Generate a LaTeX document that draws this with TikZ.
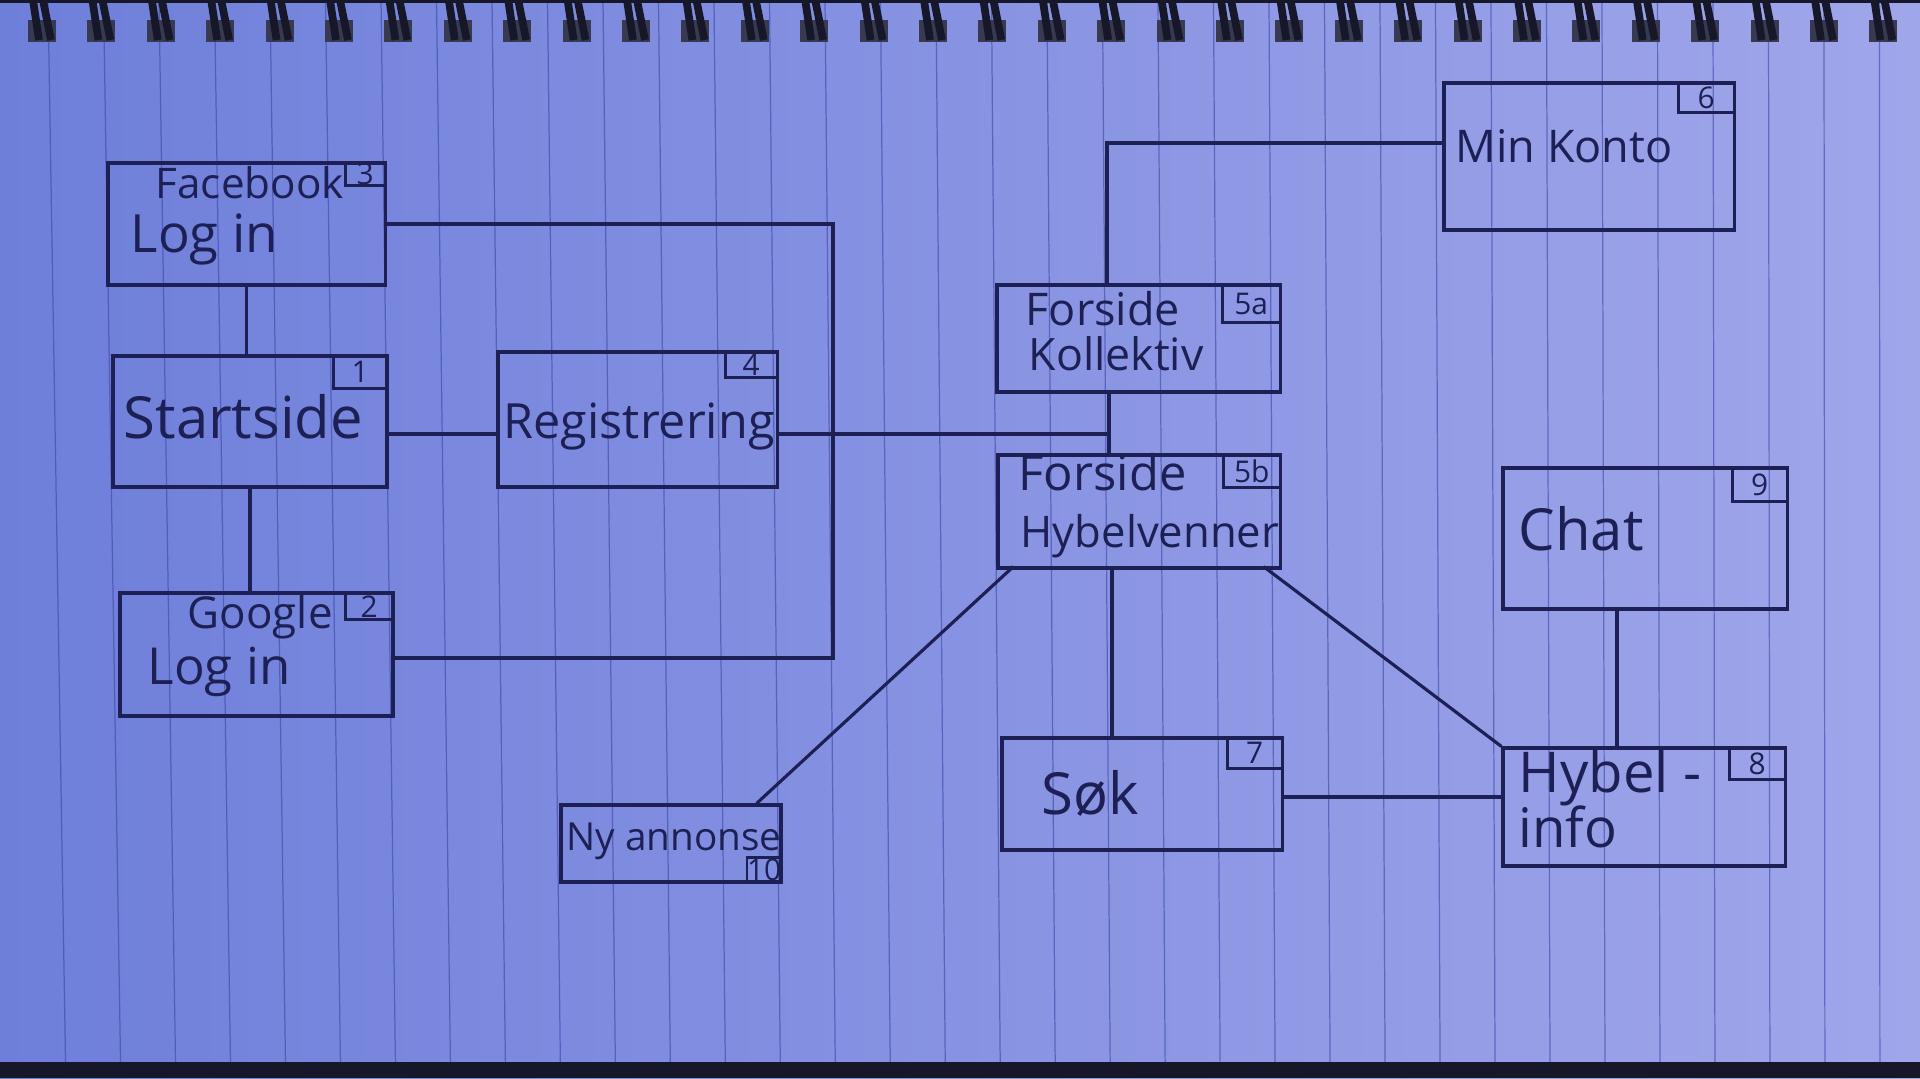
\documentclass[tikz,border=0pt]{standalone}
\usepackage{fontspec}
\setmainfont{Open Sans}
\usepackage{tikz}
\usetikzlibrary{calc}
\definecolor{ink}{RGB}{28,32,84}
\definecolor{paperL}{RGB}{110,127,218}
\definecolor{paperR}{RGB}{160,166,234}
\definecolor{rule}{RGB}{58,70,165}
\definecolor{wire}{RGB}{22,24,42}
\definecolor{hole}{RGB}{55,58,80}
\newcommand\hand[1]{\fontsize{#1}{#1}\selectfont}
\tikzset{
  screen/.style={draw=ink, line width=0.9pt, inner sep=0pt},
  numbox/.style={draw=ink, line width=0.8pt, inner sep=0pt, anchor=north east, text=ink, font=\hand{8.5}},
  handtxt/.style={text=ink, inner sep=0pt, anchor=base west},
  link/.style={draw=ink, line width=0.9pt},
}

\begin{document}
\begin{tikzpicture}[x=0.01cm, y=-0.01cm]
    % paper
    \useasboundingbox (0,0) rectangle (1920,1078);
    \shade[left color=paperL, right color=paperR] (0,0) rectangle (1920,1078);
    \foreach \i in {0,...,33} {
      \pgfmathsetmacro\xt{48+55.5*\i}
      \pgfmathsetmacro\xb{\xt+18*(1-\xt/1920)}
      \draw[rule, line width=0.35pt, opacity=0.6] (\xt,0) -- (\xb,1062);
    }
    % spiral
    \fill[wire] (0,0) rectangle (1920,3);
    \foreach \i in {0,...,31} {
      \pgfmathsetmacro\cx{42+59.4*\i}
      \fill[hole] (\cx-14,20) rectangle (\cx+14,42);
      \draw[wire, line width=2.2pt] (\cx-9,0) -- (\cx-3,40);
      \draw[wire, line width=2.2pt] (\cx+1,0) -- (\cx+9,40);
    }
    \fill[wire] (0,1062) rectangle (1920,1078);

    % screens
    \node[screen, minimum width=2.77cm, minimum height=1.22cm] (fb) at (246.5,224) {};
    \node[screen, minimum width=2.74cm, minimum height=1.31cm] (start) at (250,421.5) {};
    \node[screen, minimum width=2.73cm, minimum height=1.23cm] (google) at (256.5,654.5) {};
    \node[screen, minimum width=2.79cm, minimum height=1.35cm] (reg) at (637.5,419.5) {};
    \node[screen, minimum width=2.83cm, minimum height=1.07cm] (hk) at (1138.5,338.5) {};
    \node[screen, minimum width=2.82cm, minimum height=1.13cm] (hh) at (1139,511.5) {};
    \node[screen, minimum width=2.90cm, minimum height=1.47cm] (konto) at (1589,156.5) {};
    \node[screen, minimum width=2.84cm, minimum height=1.41cm] (chat) at (1645,538.5) {};
    \node[screen, minimum width=2.80cm, minimum height=1.12cm] (sok) at (1142,794) {};
    \node[screen, minimum width=2.82cm, minimum height=1.18cm] (hybel) at (1644,807) {};
    \node[screen, minimum width=2.20cm, minimum height=0.77cm] (ny) at (671,843.5) {};

    % numbers
    \node[numbox, minimum width=0.40cm, minimum height=0.23cm] (n3) at (fb.north east) {3};
    \node[numbox, minimum width=0.54cm, minimum height=0.33cm] (n1) at (start.north east) {1};
    \node[numbox, minimum width=0.48cm, minimum height=0.27cm] (n2) at (google.north east) {2};
    \node[numbox, minimum width=0.52cm, minimum height=0.26cm] (n4) at (reg.north east) {4};
    \node[numbox, minimum width=0.58cm, minimum height=0.38cm] (n5a) at (hk.north east) {5a};
    \node[numbox, minimum width=0.57cm, minimum height=0.33cm] (n5b) at (hh.north east) {5b};
    \node[numbox, minimum width=0.56cm, minimum height=0.30cm] (n6) at (konto.north east) {6};
    \node[numbox, minimum width=0.55cm, minimum height=0.34cm] (n9) at (chat.north east) {9};
    \node[numbox, minimum width=0.56cm, minimum height=0.32cm] (n8) at (hybel.north east) {8};
    \node[numbox, minimum width=0.55cm, minimum height=0.31cm] (n7) at (sok.north east) {7};
    \node[numbox, anchor=south east, minimum width=0.32cm, minimum height=0.25cm] (n10) at (ny.south east) {10};

    % names
    \node[handtxt, font=\hand{12}] (fbname) at (155,198) {Facebook};
    \node[handtxt, font=\hand{15}] (fblog) at (130,252) {Log in};
    \node[handtxt, font=\hand{16.5}] (startname) at (123,438) {Startside};
    \node[handtxt, font=\hand{12.5}] (gname) at (187,628) {Google};
    \node[handtxt, font=\hand{14.5}] (glog) at (147,684) {Log in};
    \node[handtxt, font=\hand{13.8}] (regname) at (503,438) {Registrering};
    \node[handtxt, font=\hand{12.8}] (hkname) at (1025,325) {Forside};
    \node[handtxt, font=\hand{12.7}] (hksub) at (1028,370) {Kollektiv};
    \node[handtxt, font=\hand{13.9}] (hhname) at (1018,490) {Forside};
    \node[handtxt, font=\hand{12.4}] (hhsub) at (1020,547) {Hybelvenner};
    \node[handtxt, font=\hand{12.8}] (kontoname) at (1455,162) {Min Konto};
    \node[handtxt, font=\hand{16.5}] (chatname) at (1518,550) {Chat};
    \node[handtxt, font=\hand{16.5}] (sokname) at (1041,814) {Søk};
    \node[handtxt, font=\hand{16}] (hybelname) at (1518,792) {Hybel -};
    \node[handtxt, font=\hand{15.5}] (hybelsub) at (1518,847) {info};
    \node[handtxt, font=\hand{11}] (nyname) at (566,850) {Ny annonse};

    % links
    \coordinate (rail) at (833,224);
    \coordinate (railend) at (833,658);
    \draw[link] (fb.east |- rail) -- (rail) -- (railend) -- (google.east |- railend);
    \draw[link] (fb.south) -- (fb.south |- start.north);
    \draw[link] (start.south) -- (start.south |- google.north);
    \coordinate (lane) at (0,434);
    \draw[link] (start.east |- lane) -- (reg.west |- lane);
    \coordinate (trunk) at (1109,434);
    \draw[link] (reg.east |- trunk) -- (trunk);
    \draw[link] (hk.south -| trunk) -- (hh.north -| trunk);
    \coordinate (knee) at (1107,143);
    \draw[link] (konto.west |- knee) -- (knee) -- (knee |- hk.north);
    \coordinate (drop) at (1112,0);
    \draw[link] (hh.south -| drop) -- (sok.north -| drop);
    \draw[link] ([xshift=0.17cm, yshift=0.03cm]hh.south west) -- ([xshift=-0.26cm]ny.north east);
    \draw[link] ([xshift=-0.18cm, yshift=0.03cm]hh.south east) -- (hybel.north west);
    \coordinate (sokrow) at (0,797);
    \draw[link] (sok.east |- sokrow) -- (hybel.west |- sokrow);
    \coordinate (chatcol) at (1617,0);
    \draw[link] (chat.south -| chatcol) -- (hybel.north -| chatcol);
\end{tikzpicture}
\end{document}
